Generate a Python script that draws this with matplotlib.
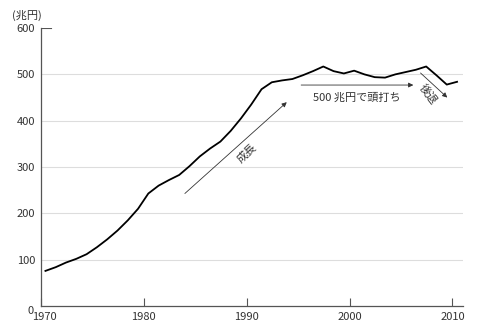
import numpy as np
import matplotlib
matplotlib.use("Agg")
import matplotlib.pyplot as plt
from matplotlib.transforms import ScaledTranslation

plt.rcParams['font.family'] = ['Noto Sans CJK JP', 'DejaVu Sans']

# Nominal GDP (trillion yen), 1970-2010
years = list(range(1970, 2011))
gdp = [76, 84, 94, 102, 112, 127, 144, 163, 185, 210,
       243, 260, 272, 283, 302, 323, 340, 355, 378, 405,
       435, 468, 483, 487, 490, 498, 507, 517, 507, 502,
       508, 500, 494, 493, 500, 505, 510, 517, 498, 478,
       484]

y_ticks = [0, 100, 200, 300, 400, 500, 600]
x_ticks = [1970, 1980, 1990, 2000, 2010]
unit_label = "(兆円)"
growth_label = "成長"
plateau_label = "500 兆円で頭打ち"
decline_label = "後退"

fig = plt.figure(figsize=(4.8, 3.26), dpi=100)
ax = fig.add_axes([0.085, 0.061, 0.879, 0.853])

# annual values plotted at mid-year
ax.plot(np.array(years) + 0.45, gdp, color='black', lw=1.3, zorder=3)

ax.set_xlim(1970, 2011)
ax.set_ylim(0, 600)
ax.set_yticks(y_ticks)
ax.set_xticks(x_ticks)
ax.tick_params(axis='y', length=0, pad=4, labelsize=8, colors='#333333')
ax.tick_params(axis='x', direction='in', length=6, width=0.8, color='#555555',
               pad=4, labelsize=8, labelcolor='#333333')
for v in y_ticks[1:-1]:
    ax.axhline(v, color='#dddddd', lw=0.8, zorder=1)
ax.axhline(600, xmax=0.025, color='#555555', lw=0.8)

# keep the corner labels "0" and "1970" apart
fig.canvas.draw()
ax.get_yticklabels()[0].set_transform(
    ax.get_yticklabels()[0].get_transform() + ScaledTranslation(-2 / 100, -4 / 100, fig.dpi_scale_trans))
ax.get_xticklabels()[0].set_transform(
    ax.get_xticklabels()[0].get_transform() + ScaledTranslation(4 / 100, 0, fig.dpi_scale_trans))

for s in ['top', 'right']:
    ax.spines[s].set_visible(False)
for s in ['left', 'bottom']:
    ax.spines[s].set_color('#555555')
    ax.spines[s].set_linewidth(0.9)

fig.text(0.025, 0.952, unit_label, fontsize=8, color='#333333', va='center', ha='left')

arrow_kw = dict(arrowstyle='-|>', color='#333333', lw=0.6, mutation_scale=7,
                shrinkA=0, shrinkB=0)
# growth phase
ax.annotate('', xy=(1993.9, 440), xytext=(1984.0, 243), arrowprops=arrow_kw)
ax.text(1990.0, 330, growth_label, rotation=43, fontsize=8, color='#333333',
        ha='center', va='center', rotation_mode='anchor')
# plateau
ax.annotate('', xy=(2006.2, 477), xytext=(1995.3, 477), arrowprops=arrow_kw)
ax.text(2000.7, 450, plateau_label, fontsize=8, color='#333333', ha='center', va='center')
# decline
ax.annotate('', xy=(2009.5, 450), xytext=(2006.9, 503), arrowprops=arrow_kw)
ax.text(2007.6, 457, decline_label, rotation=-53, fontsize=8, color='#333333',
        ha='center', va='center', rotation_mode='anchor')

fig.savefig('out.png', dpi=100)
